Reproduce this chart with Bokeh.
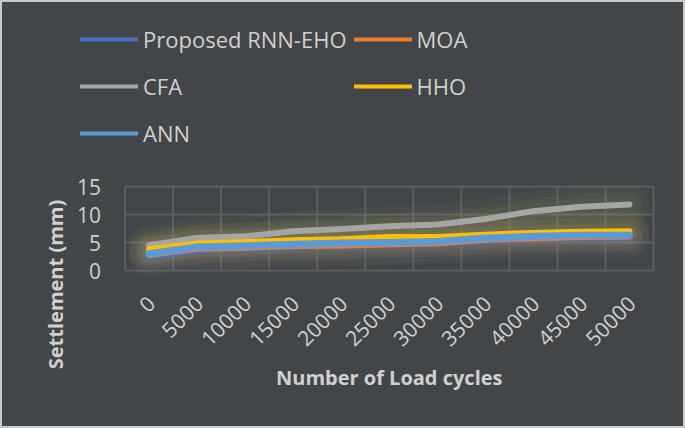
import math
from bokeh.plotting import figure
from bokeh.layouts import column
from bokeh.models import Range1d, Legend, LegendItem
from bokeh.core.properties import value
from bokeh.embed import file_html
from bokeh.resources import INLINE

# ---- data ----
load_cycles = ["0", "5000", "10000", "15000", "20000", "25000",
               "30000", "35000", "40000", "45000", "50000"]
proposed = [2.4, 3.5, 3.8, 4.1, 4.3, 4.5, 4.7, 5.2, 5.5, 5.7, 5.8]
moa      = [2.6, 3.7, 3.9, 4.2, 4.3, 4.5, 4.7, 5.3, 5.6, 5.8, 5.9]
cfa      = [4.5, 5.8, 6.1, 7.0, 7.4, 7.9, 8.2, 9.2, 10.6, 11.4, 11.8]
hho      = [3.8, 4.8, 5.1, 5.4, 5.6, 6.0, 6.0, 6.4, 6.7, 6.9, 7.0]
ann      = [3.0, 4.2, 4.4, 4.7, 4.9, 5.0, 5.2, 5.8, 6.1, 6.3, 6.3]
y_ticks = [0, 5, 10, 15]

series = [
    ("Proposed RNN-EHO", proposed, "#4472C4", 5),
    ("MOA", moa, "#ED7D31", 4),
    ("CFA", cfa, "#A5A5A5", 6),
    ("HHO", hho, "#FFC000", 6),
    ("ANN", ann, "#5B9BD5", 7),
]

BG = "#424648"
TXT = "#D0D0D0"
GRID = "#5A5E5F"
FONT = "Open Sans"

# ---- layout constants (pixels inside the 2px border) ----
W, H = 681, 424
PLOT_L, PLOT_R, PLOT_T, PLOT_B = 122.5, 651.0, 184.0, 268.0

n = len(load_cycles)
ymax = max(y_ticks)
xs = [i + 0.5 for i in range(n)]
ppx = (PLOT_R - PLOT_L) / n          # pixels per x unit
ppy = (PLOT_B - PLOT_T) / ymax       # pixels per y unit
def dx(px): return px / ppx
def dy(px): return px / ppy

p = figure(width=W, height=H, output_backend="svg", toolbar_location=None,
           x_axis_type=None, y_axis_type=None, min_border=0,
           x_range=Range1d(-dx(PLOT_L), n + dx(W - PLOT_R)),
           y_range=Range1d(-dy(H - PLOT_B), ymax + dy(PLOT_T)))
p.background_fill_color = BG
p.border_fill_color = BG
p.outline_line_color = None
p.xgrid.visible = False
p.ygrid.visible = False

# grid lines (category boundaries + value ticks)
bounds = list(range(n + 1))
p.segment(x0=bounds, x1=bounds, y0=[0] * len(bounds), y1=[ymax] * len(bounds),
          line_color=GRID, line_width=2)
p.segment(x0=[0] * len(y_ticks), x1=[n] * len(y_ticks), y0=y_ticks, y1=y_ticks,
          line_color=GRID, line_width=2)

# tick labels
p.text(x=[0] * len(y_ticks), y=y_ticks, text=[str(t) for t in y_ticks],
       x_offset=-24, text_align="right", text_baseline="middle",
       text_color=TXT, text_font=value(FONT), text_font_size="21px")
p.text(x=xs, y=[0] * n, text=load_cycles, angle=math.pi / 4,
       x_offset=2, y_offset=29, text_align="right", text_baseline="middle",
       text_color=TXT, text_font=value(FONT), text_font_size="21px")

# axis titles
p.text(x=[n / 2], y=[-dy(107)], text=["Number of Load cycles"],
       text_align="center", text_baseline="middle", text_color=TXT,
       text_font=value(FONT), text_font_style="bold", text_font_size="20px")
p.text(x=[-dx(70)], y=[-dy(14)], text=["Settlement (mm)"], angle=math.pi / 2,
       text_align="center", text_baseline="middle", text_color=TXT,
       text_font=value(FONT), text_font_style="bold", text_font_size="20px")

# glow
glow = [("#B8C070", 0.05, 40), ("#B8C070", 0.06, 26), ("#9AA860", 0.06, 16)]
for name, vals, col, w in series:
    for gcol, a, gw in glow:
        p.line(xs, vals, line_color=col if name != "CFA" else gcol,
               line_width=gw, line_alpha=a, line_join="round", line_cap="round")

# legend proxies (thin, hidden beneath the series lines)
items = []
for name, vals, col, w in series:
    r = p.line(xs, vals, line_color=col, line_width=4, line_cap="round")
    items.append(LegendItem(label=name, renderers=[r]))

# series
for name, vals, col, w in series:
    p.line(xs, vals, line_color=col, line_width=w, line_join="round",
           line_cap="round")

legend = Legend(items=items, location=(78, 273), orientation="horizontal",
                ncols=2, background_fill_alpha=0, border_line_color=None,
                padding=0, margin=0, spacing=7, glyph_width=58,
                glyph_height=40, label_height=40, label_standoff=5,
                label_text_color=TXT, label_text_font=FONT,
                label_text_font_size="22px")
p.add_layout(legend, "center")

layout = column(p, spacing=0)
layout.styles = {"border": "2px solid #C9C9C9", "background-color": BG}

open("out.html", "w").write(file_html(layout, INLINE))
